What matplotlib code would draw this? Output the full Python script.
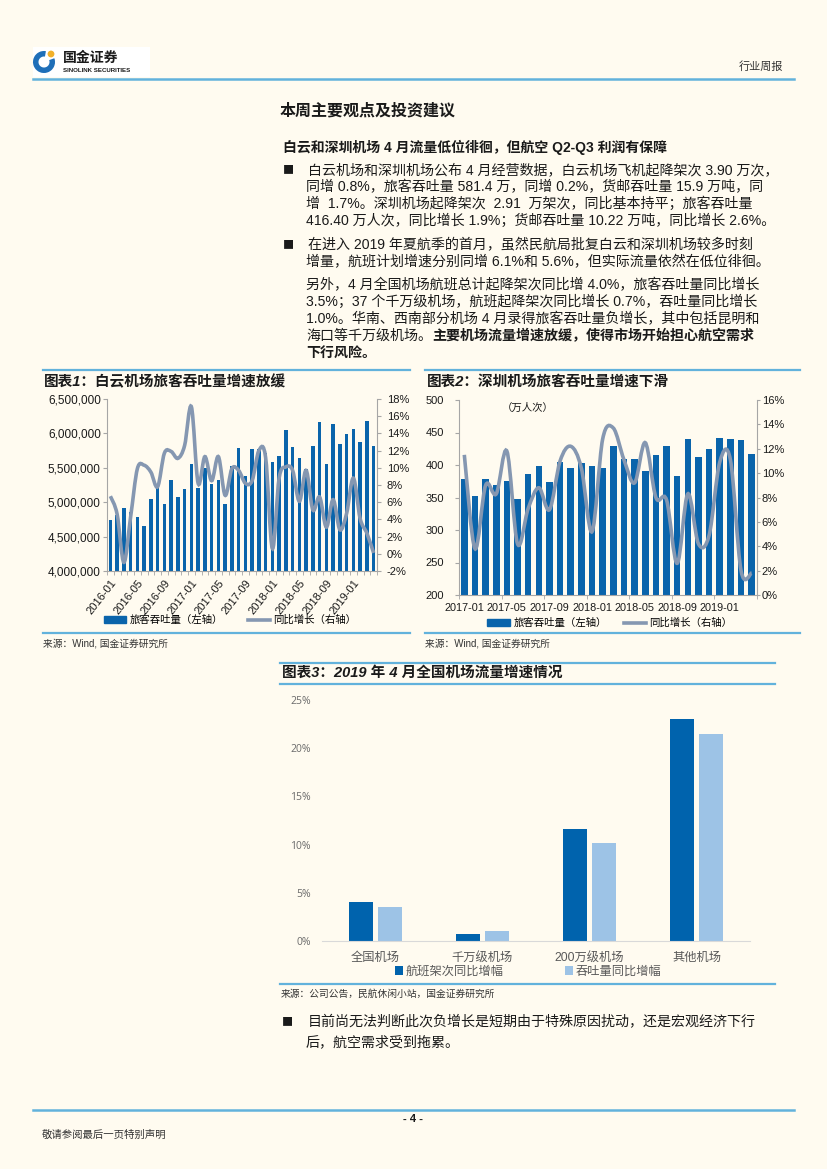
import matplotlib
matplotlib.use("Agg")
import matplotlib.pyplot as plt
import numpy as np
import pandas as pd
from matplotlib.lines import Line2D
from matplotlib.patches import Circle, Patch, PathPatch, Rectangle, Wedge
from matplotlib.path import Path
from matplotlib.ticker import FuncFormatter, MultipleLocator

W, H = 827, 1169
BG = "#fffbf0"
RULE = "#62b2dc"
BAR = "#0a64ab"
LINE = "#8597b1"
AXIS = "#a6a6a6"
DARK = "#0063ad"
LIGHT = "#9dc3e6"
INK = "#1a1a1a"

MIX = ["Liberation Sans", "Noto Sans CJK SC", "DejaVu Sans"]
plt.rcParams["font.family"] = MIX
plt.rcParams["axes.unicode_minus"] = False

# 图表1：白云机场旅客吞吐量（人次）及同比（%），2016-01 ~ 2019-04
baiyun_months = pd.date_range("2016-01", "2019-04", freq="MS").strftime("%Y-%m").tolist()
baiyun_pax = [
    4740000, 4810000, 4920000, 4860000, 4780000, 4650000, 5050000, 5230000,
    4970000, 5320000, 5070000, 5190000, 5550000, 5200000, 5490000, 5260000,
    5320000, 4970000, 5530000, 5790000, 5380000, 5780000, 5770000, 5710000,
    5590000, 5670000, 6050000, 5800000, 5640000, 5480000, 5820000, 6170000,
    5550000, 6140000, 5840000, 5990000, 6070000, 5880000, 6180000, 5810000,
]
baiyun_yoy = [
    6.7, 4.6, -1.0, 4.3, 9.9, 10.3, 9.5, 7.8, 11.7, 11.9, 11.1, 12.6,
    17.1, 8.2, 11.3, 8.5, 11.3, 6.8, 9.9, 9.7, 8.2, 8.5, 12.0, 11.2,
    0.6, 8.8, 10.1, 9.7, 6.1, 9.7, 5.1, 6.6, 3.1, 6.3, 2.8, 4.7,
    8.8, 4.1, 2.4, 0.1,
]
baiyun_ticks = ["2016-01", "2016-05", "2016-09", "2017-01", "2017-05",
                "2017-09", "2018-01", "2018-05", "2018-09", "2019-01"]

# 图表2：深圳机场旅客吞吐量（万人次）及同比（%），2017-01 ~ 2019-04
sz_months = pd.date_range("2017-01", "2019-04", freq="MS").strftime("%Y-%m").tolist()
sz_pax = [378, 352, 378, 370, 375, 348, 386, 399, 374, 405, 396, 403, 398, 396,
          430, 409, 409, 391, 416, 429, 383, 440, 413, 424, 441, 440, 439, 417]
sz_yoy = [11.5, 3.8, 9.0, 8.3, 11.8, 4.2, 7.1, 8.8, 7.0, 11.0, 12.2, 10.4, 5.2, 12.8,
          13.7, 11.1, 9.2, 12.5, 8.0, 7.8, 2.6, 8.3, 4.2, 4.9, 10.9, 11.1, 2.0, 1.8]
sz_ticks = ["2017-01", "2017-05", "2017-09", "2018-01", "2018-05", "2018-09", "2019-01"]

# 图表3：2019年4月全国机场流量增速
airport_groups = ["全国机场", "千万级机场", "200万级机场", "其他机场"]
flights_yoy = [4.0, 0.7, 11.6, 23.0]
throughput_yoy = [3.5, 1.0, 10.2, 21.5]


def box(x0, y0, x1, y1):
    return [x0 / W, 1 - y1 / H, (x1 - x0) / W, (y1 - y0) / H]


def smooth_path(x, y):
    # excel-style smoothed line through the points
    pts = np.column_stack([x, y]).astype(float)
    n = len(pts)
    verts = [tuple(pts[0])]
    codes = [Path.MOVETO]
    for i in range(n - 1):
        p0 = pts[max(i - 1, 0)]
        p1 = pts[i]
        p2 = pts[i + 1]
        p3 = pts[min(i + 2, n - 1)]
        verts += [tuple(p1 + (p2 - p0) / 6), tuple(p2 - (p3 - p1) / 6), tuple(p2)]
        codes += [Path.CURVE4] * 3
    return Path(verts, codes)


def style_dual(ax, axr):
    for s in ("top", "right"):
        ax.spines[s].set_visible(False)
    for s in ("top", "left", "bottom"):
        axr.spines[s].set_visible(False)
    for s in ("left", "bottom"):
        ax.spines[s].set_color(AXIS)
    axr.spines["right"].set_color(AXIS)
    ax.set_facecolor("none")


fig = plt.figure(figsize=(W / 100, H / 100), dpi=100, facecolor=BG)
page = fig.add_axes([0, 0, 1, 1])
page.set_xlim(0, W)
page.set_ylim(H, 0)
page.axis("off")
renderer = fig.canvas.get_renderer()

# header
page.add_patch(Rectangle((33, 47), 117, 30, fc="white", ec="none"))
page.add_patch(Wedge((44, 62), 11, -20, 280, width=5.5, fc="#1f6fb8", ec="none"))
page.add_patch(Circle((51, 54), 3.4, fc="#f2b12a", ec="none"))
page.text(63, 57.5, "国金证券", fontsize=10, fontweight="bold", color=INK, va="center")
page.text(63, 70, "SINOLINK SECURITIES", fontsize=4.4, fontweight="bold", color=INK, va="center")
page.text(783, 67, "行业周报", fontsize=8, color="#333333", ha="right", va="center")
page.plot([33, 794], [79, 79], color=RULE, lw=1.8)

# footer
page.plot([33, 794], [1110, 1110], color=RULE, lw=1.8)
page.text(413, 1119, "- 4 -", fontsize=8, fontweight="bold", ha="center", va="center", color=INK)
page.text(42, 1135, "敬请参阅最后一页特别声明", fontsize=7.5, va="center", color="#333333")

# body text
page.text(280, 111, "本周主要观点及投资建议", fontsize=11.5, fontweight="bold", va="center", color=INK)
page.text(283, 147, "白云和深圳机场 4 月流量低位徘徊，但航空 Q2-Q3 利润有保障",
          fontsize=10, fontweight="bold", va="center", color=INK)

body_kw = dict(fontsize=10.1, va="center", color=INK)
bullet_kw = dict(fontsize=8, va="center", ha="center", color=INK,
                 family=["Noto Sans CJK SC", "DejaVu Sans"])

bullet1 = [
    "白云机场和深圳机场公布 4 月经营数据，白云机场飞机起降架次 3.90 万次，",
    "同增 0.8%，旅客吞吐量 581.4 万，同增 0.2%，货邮吞吐量 15.9 万吨，同",
    "增  1.7%。深圳机场起降架次  2.91  万架次，同比基本持平；旅客吞吐量",
    "416.40 万人次，同比增长 1.9%；货邮吞吐量 10.22 万吨，同比增长 2.6%。",
]
bullet2 = [
    "在进入 2019 年夏航季的首月，虽然民航局批复白云和深圳机场较多时刻",
    "增量，航班计划增速分别同增 6.1%和 5.6%，但实际流量依然在低位徘徊。",
]
para = [
    "另外，4 月全国机场航班总计起降架次同比增 4.0%，旅客吞吐量同比增长",
    "3.5%；37 个千万级机场，航班起降架次同比增长 0.7%，吞吐量同比增长",
    "1.0%。华南、西南部分机场 4 月录得旅客吞吐量负增长，其中包括昆明和",
]
bullet3 = [
    "目前尚无法判断此次负增长是短期由于特殊原因扰动，还是宏观经济下行",
    "后，航空需求受到拖累。",
]

page.text(288, 170, "■", **bullet_kw)
for i, line in enumerate(bullet1):
    page.text(308 if i == 0 else 306, 170 + 17 * i, line, **body_kw)
page.text(288, 245, "■", **bullet_kw)
for i, line in enumerate(bullet2):
    page.text(308 if i == 0 else 306, 245 + 16.7 * i, line, **body_kw)
for i, line in enumerate(para):
    page.text(306, 285 + 17 * i, line, **body_kw)
t = page.text(306, 336, "海口等千万级机场。", **body_kw)
bb = t.get_window_extent(renderer)
page.text(bb.x1, 336, "主要机场流量增速放缓，使得市场开始担心航空需求", fontweight="bold", **body_kw)
page.text(306, 353, "下行风险。", fontweight="bold", **body_kw)

page.text(287, 1022, "■", **bullet_kw)
for i, line in enumerate(bullet3):
    page.text(308 if i == 0 else 306, 1022 + 20 * i, line, **body_kw)

# chart frames
title_kw = dict(fontsize=10.5, fontweight="bold", fontstyle="italic", va="center", color=INK)
src_kw = dict(fontsize=7, va="center", color="#333333")
page.plot([43, 410], [370, 370], color=RULE, lw=1.6)
page.plot([43, 410], [633, 633], color=RULE, lw=1.6)
page.text(44, 381.5, "图表1：白云机场旅客吞吐量增速放缓", **title_kw)
page.text(43, 643, "来源：Wind, 国金证券研究所", **src_kw)

page.plot([425, 800], [370, 370], color=RULE, lw=1.6)
page.plot([425, 800], [633, 633], color=RULE, lw=1.6)
page.text(427, 381.5, "图表2：深圳机场旅客吞吐量增速下滑", **title_kw)
page.text(425, 643, "来源：Wind, 国金证券研究所", **src_kw)

page.plot([280, 775], [663, 663], color=RULE, lw=1.6)
page.plot([280, 775], [684, 684], color=RULE, lw=1.6)
page.plot([280, 775], [984, 984], color=RULE, lw=1.6)
page.text(282, 673, "图表3：2019 年 4 月全国机场流量增速情况", **title_kw)
page.text(281, 994, "来源：公司公告，民航休闲小站，国金证券研究所", **src_kw)

# chart 1
ax1 = fig.add_axes(box(107, 399, 377, 571))
x1 = np.arange(len(baiyun_pax))
ax1.bar(x1, baiyun_pax, width=0.5, color=BAR)
ax1.set_xlim(-0.5, len(x1) - 0.5)
ax1.set_ylim(4000000, 6500000)
ax1.yaxis.set_major_locator(MultipleLocator(500000))
ax1.yaxis.set_major_formatter(FuncFormatter(lambda v, p: f"{v:,.0f}"))
ax1.set_xticks([baiyun_months.index(m) for m in baiyun_ticks])
ax1.set_xticklabels(baiyun_ticks, rotation=52, ha="right", rotation_mode="anchor")
ax1.set_xticks(np.arange(-0.5, len(x1), 1), minor=True)
ax1.tick_params(axis="x", which="major", length=0, pad=5, labelsize=8, labelcolor=INK)
ax1.tick_params(axis="x", which="minor", length=3, color=AXIS)
ax1.tick_params(axis="y", length=3, color=AXIS, pad=1.5, labelsize=8.5, labelcolor=INK)
ax1r = ax1.twinx()
ax1r.set_ylim(-2, 18)
ax1r.yaxis.set_major_locator(MultipleLocator(2))
ax1r.yaxis.set_major_formatter(FuncFormatter(lambda v, p: f"{v:.0f}%"))
ax1r.tick_params(axis="y", length=3, color=AXIS, pad=4, labelsize=8, labelcolor=INK)
ax1r.add_patch(PathPatch(smooth_path(x1, baiyun_yoy), fc="none", ec=LINE, lw=2.6))
style_dual(ax1, ax1r)
fig.legend(
    [Patch(color=BAR), Line2D([], [], color=LINE, lw=2.6)],
    ["旅客吞吐量（左轴）", "同比增长（右轴）"],
    loc="center", bbox_to_anchor=(230 / W, 1 - 620 / H), ncol=2, frameon=False,
    fontsize=7.5, handlelength=2.1, handleheight=0.55, handletextpad=0.3,
    columnspacing=2.4, borderpad=0,
)

# chart 2
ax2 = fig.add_axes(box(459, 400, 757, 595))
x2 = np.arange(len(sz_pax))
ax2.bar(x2, sz_pax, width=0.62, color=BAR)
ax2.set_xlim(-0.5, len(x2) - 0.5)
ax2.set_ylim(200, 500)
ax2.yaxis.set_major_locator(MultipleLocator(50))
ax2.set_xticks([sz_months.index(m) for m in sz_ticks])
ax2.set_xticklabels(sz_ticks)
ax2.set_xticks(np.arange(-0.5, len(x2), 4), minor=True)
ax2.tick_params(axis="x", which="major", length=0, pad=6, labelsize=7.8, labelcolor=INK)
ax2.tick_params(axis="x", which="minor", length=3, color=AXIS)
ax2.tick_params(axis="y", length=3, color=AXIS, pad=8, labelsize=8, labelcolor=INK)
ax2.text(0.23, 0.96, "（万人次）", transform=ax2.transAxes, fontsize=7.5, ha="center", va="center", color=INK)
ax2r = ax2.twinx()
ax2r.set_ylim(0, 16)
ax2r.yaxis.set_major_locator(MultipleLocator(2))
ax2r.yaxis.set_major_formatter(FuncFormatter(lambda v, p: f"{v:.0f}%"))
ax2r.tick_params(axis="y", length=2, color=AXIS, pad=1.5, labelsize=8, labelcolor=INK)
ax2r.add_patch(PathPatch(smooth_path(x2, sz_yoy), fc="none", ec=LINE, lw=2.6))
style_dual(ax2, ax2r)
fig.legend(
    [Patch(color=BAR), Line2D([], [], color=LINE, lw=2.6)],
    ["旅客吞吐量（左轴）", "同比增长（右轴）"],
    loc="center", bbox_to_anchor=(610 / W, 1 - 623 / H), ncol=2, frameon=False,
    fontsize=7.5, handlelength=2.2, handleheight=0.55, handletextpad=0.3,
    columnspacing=1.6, borderpad=0,
)

# chart 3
ax3 = fig.add_axes(box(322, 700, 750, 941))
ax3.set_facecolor("none")
x3 = np.arange(len(airport_groups))
ax3.bar(x3 - 0.14, flights_yoy, width=0.224, color=DARK, label="航班架次同比增幅")
ax3.bar(x3 + 0.14, throughput_yoy, width=0.224, color=LIGHT, label="吞吐量同比增幅")
ax3.set_xlim(-0.5, len(x3) - 0.5)
ax3.set_ylim(0, 25)
ax3.yaxis.set_major_locator(MultipleLocator(5))
ax3.yaxis.set_major_formatter(FuncFormatter(lambda v, p: f"{v:.0f}%"))
ax3.set_xticks(x3)
ax3.set_xticklabels(airport_groups)
for s in ("top", "right", "left"):
    ax3.spines[s].set_visible(False)
ax3.spines["bottom"].set_color("#d9d9d9")
ax3.tick_params(axis="x", length=0, pad=8, labelsize=8.8, labelcolor="#595959")
ax3.tick_params(axis="y", length=0, pad=8, labelsize=7.5, labelcolor="#6b6b6b")
for lab in ax3.get_yticklabels():
    lab.set_family(["Open Sans", "DejaVu Sans"])
ax3.legend(
    loc="center", bbox_to_anchor=(528 / W, 1 - 972 / H), bbox_transform=fig.transFigure,
    ncol=2, frameon=False, fontsize=8.8, labelcolor="#595959", handlelength=0.7,
    handleheight=0.7, handletextpad=0.2, columnspacing=5, borderpad=0,
)

fig.savefig("out.png", dpi=100, facecolor=BG)
